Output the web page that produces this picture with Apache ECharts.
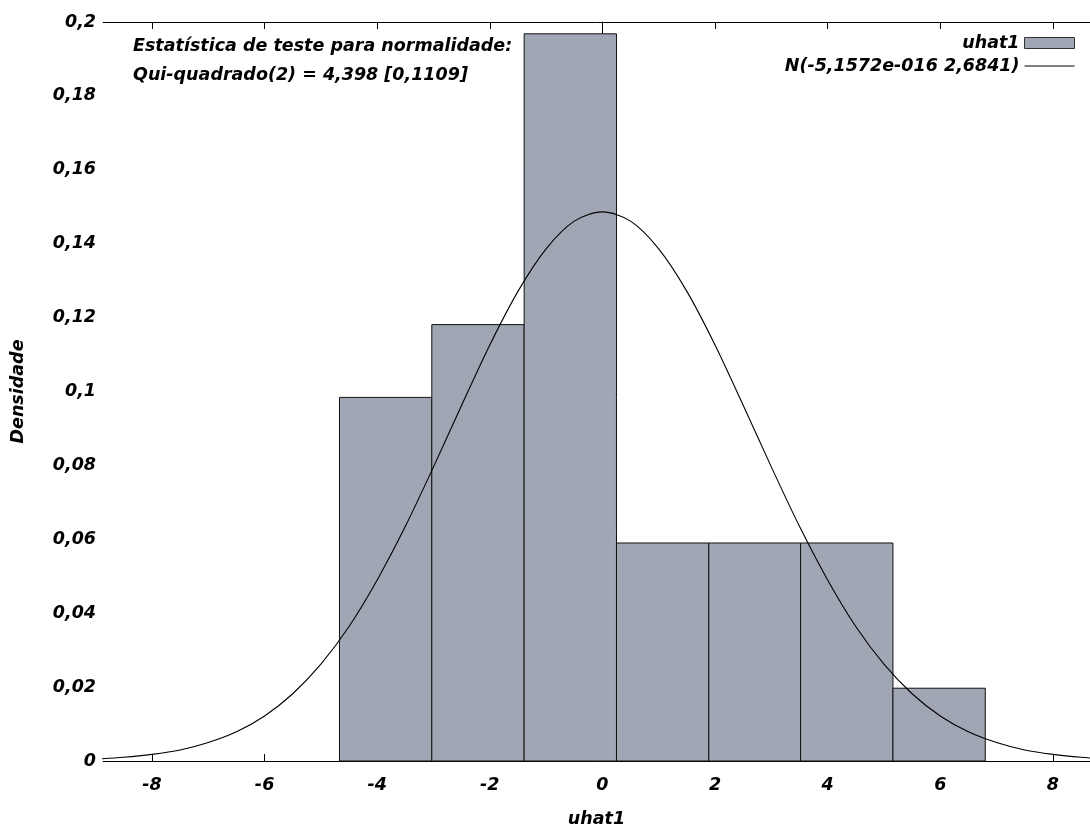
<!DOCTYPE html>
<html>
<head>
<meta charset="utf-8">
<title>uhat1 - teste de normalidade</title>
<script src="https://cdn.jsdelivr.net/npm/echarts@6/dist/echarts.min.js"></script>
<style>
html, body { margin: 0; padding: 0; background: #fff; }
#chart { width: 1090px; height: 833px; }
</style>
</head>
<body>
<div id="chart"></div>
<script>
// histograma: limites das classes e densidades
var binEdges = [-4.67, -3.03, -1.39, 0.25, 1.89, 3.52, 5.16, 6.80]
var binDensity = [0.0984, 0.1181, 0.1968, 0.0590, 0.0590, 0.0590, 0.0197]
// curva normal
var curveX = [-9, -8.5, -8, -7.5, -7, -6.5, -6, -5.5, -5, -4.5, -4, -3.5, -3, -2.5, -2, -1.5, -1, -0.5,
  0, 0.5, 1, 1.5, 2, 2.5, 3, 3.5, 4, 4.5, 5, 5.5, 6, 6.5, 7, 7.5, 8, 8.5, 9]
var curveY = [0.0005, 0.0010, 0.0018, 0.0030, 0.0050, 0.0079, 0.0122, 0.0182, 0.0262, 0.0364, 0.0490, 0.0635, 0.0796, 0.0963, 0.1126, 0.1271, 0.1386, 0.1461,
  0.1486, 0.1461, 0.1386, 0.1271, 0.1126, 0.0963, 0.0796, 0.0635, 0.0490, 0.0364, 0.0262, 0.0182, 0.0122, 0.0079, 0.0050, 0.0030, 0.0018, 0.0010, 0.0005]
var xTicks = [-8, -6, -4, -2, 0, 2, 4, 6, 8]
var histName = 'uhat1'
var curveName = 'N(-5,1572e-016 2,6841)'
var noteLines = ['Estatística de teste para normalidade:', 'Qui-quadrado(2) = 4,398 [0,1109]']

var font = 'DejaVu Sans'
var fontSize = 17.5
var barColor = '#a0a6b4'

var bars = []
for (var i = 0; i < binDensity.length; i++) {
  bars.push([binEdges[i], binEdges[i + 1], binDensity[i]])
}
var curve = curveX.map(function (x, i) { return [x, curveY[i]] })

var chart = echarts.init(document.getElementById('chart'))
var textStyle = { fontFamily: font, fontWeight: 'bold', fontStyle: 'italic', fontSize: fontSize, color: '#000' }
var cssFont = 'italic bold ' + fontSize + 'px "' + font + '"'
var xCommon = {
  type: 'value',
  min: -8.87,
  max: 8.66,
  axisLine: { show: true, lineStyle: { color: '#000', width: 1 } },
  axisTick: { show: true, inside: true, length: 7, customValues: xTicks, lineStyle: { color: '#000' } },
  splitLine: { show: false }
}

chart.setOption({
  animation: false,
  backgroundColor: '#fff',
  grid: { left: 103, right: 0, top: 22, bottom: 68 },
  legend: {
    orient: 'vertical',
    right: 10,
    top: 29,
    align: 'right',
    itemWidth: 50,
    itemHeight: 11,
    itemGap: 5,
    textStyle: textStyle,
    data: [
      { name: histName, icon: 'rect', itemStyle: { color: barColor, borderColor: '#333', borderWidth: 1 } },
      { name: curveName, icon: 'path://M0,0H50V1H0Z', itemStyle: { color: '#000' } }
    ]
  },
  graphic: [
    { type: 'text', left: 133, top: 37, style: { text: noteLines[0], font: cssFont, fill: '#000' } },
    { type: 'text', left: 133, top: 66, style: { text: noteLines[1], font: cssFont, fill: '#000' } }
  ],
  xAxis: [
    Object.assign({}, xCommon, {
      position: 'bottom',
      name: 'uhat1',
      nameLocation: 'middle',
      nameGap: 49,
      nameTextStyle: textStyle,
      axisLabel: Object.assign({ customValues: xTicks, margin: 15 }, textStyle)
    }),
    Object.assign({}, xCommon, {
      position: 'top',
      axisLabel: { show: false }
    })
  ],
  yAxis: {
    type: 'value',
    min: 0,
    max: 0.2,
    interval: 0.02,
    name: 'Densidade',
    nameLocation: 'middle',
    nameGap: 76,
    nameTextStyle: textStyle,
    axisLine: { show: true, lineStyle: { color: '#000', width: 1 } },
    axisTick: { show: true, inside: true, length: 7, lineStyle: { color: '#000' } },
    splitLine: { show: false },
    axisLabel: Object.assign({
      margin: 7,
      formatter: function (v) { return String(+v.toFixed(2)).replace('.', ',') }
    }, textStyle)
  },
  series: [
    {
      name: histName,
      type: 'custom',
      xAxisIndex: 0,
      encode: { x: [0, 1], y: 2 },
      renderItem: function (params, api) {
        var p0 = api.coord([api.value(0), api.value(2)])
        var p1 = api.coord([api.value(1), 0])
        return {
          type: 'rect',
          shape: { x: p0[0], y: p0[1], width: p1[0] - p0[0], height: p1[1] - p0[1] },
          style: { fill: barColor, stroke: '#111', lineWidth: 1 }
        }
      },
      data: bars,
      z: 1
    },
    {
      name: curveName,
      type: 'line',
      xAxisIndex: 0,
      data: curve,
      smooth: 0.3,
      showSymbol: false,
      clip: true,
      lineStyle: { color: '#000', width: 1.1 },
      itemStyle: { color: '#000' },
      z: 3
    }
  ]
})
</script>
</body>
</html>
